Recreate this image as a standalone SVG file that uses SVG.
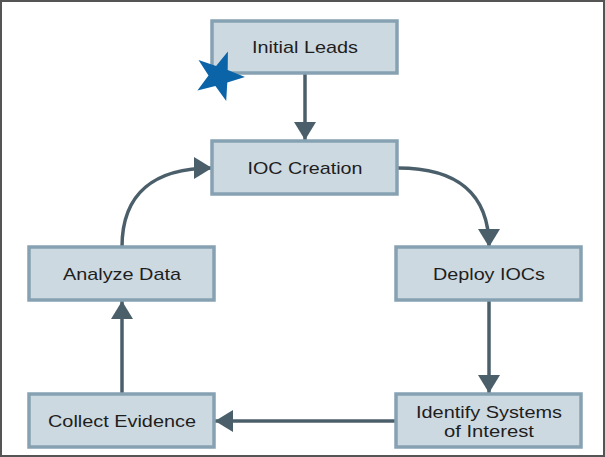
<svg xmlns="http://www.w3.org/2000/svg" width="605" height="457" viewBox="0 0 605 457">
<style>
.box{fill:#cdd9e0;stroke:#86a1b2;stroke-width:3.5}
.lbl{font-family:"Liberation Sans",Arial,sans-serif;font-size:17px;fill:#1e1e1e;text-anchor:middle}
.edge{fill:none;stroke:#4b5f6b;stroke-width:3.5}
</style>
<defs>
<marker id="ah" markerUnits="userSpaceOnUse" markerWidth="18" markerHeight="22" viewBox="0 0 18 22" refX="18" refY="11" orient="auto">
<path d="M0,0 L18,11 L0,22 z" fill="#4b5f6b"/>
</marker>
</defs>
<rect x="1" y="1" width="603" height="455" fill="#ffffff" stroke="#555555" stroke-width="2"/>
<g id="connectors">
<path class="edge" d="M305,74 L305,140" marker-end="url(#ah)"/>
<path class="edge" d="M398,168 C455,168 489,192 489,247" marker-end="url(#ah)"/>
<path class="edge" d="M489,300 L489,393" marker-end="url(#ah)"/>
<path class="edge" d="M396,421 L215,421" marker-end="url(#ah)"/>
<path class="edge" d="M122,394 L122,301" marker-end="url(#ah)"/>
<path class="edge" d="M122,247 C122,192 156,168 212,168" marker-end="url(#ah)"/>
</g>
<g id="initial-leads">
<rect class="box" x="212" y="21" width="185" height="52"/>
<text class="lbl" x="305" y="53" textLength="106" lengthAdjust="spacingAndGlyphs">Initial Leads</text>
</g>
<g id="star">
<polygon points="227.9,51.6 227.7,70.1 245,76.9 227.3,82.5 226.2,101 215.4,85.9 197.4,90.5 208.5,75.6 198.5,60 216.1,65.9" fill="#0b64a8"/>
</g>
<g id="ioc-creation">
<rect class="box" x="212" y="141" width="185" height="53"/>
<text class="lbl" x="305" y="174" textLength="115" lengthAdjust="spacingAndGlyphs">IOC Creation</text>
</g>
<g id="analyze-data">
<rect class="box" x="29" y="247" width="185" height="53"/>
<text class="lbl" x="122" y="280" textLength="118" lengthAdjust="spacingAndGlyphs">Analyze Data</text>
</g>
<g id="deploy-iocs">
<rect class="box" x="396" y="247" width="185" height="53"/>
<text class="lbl" x="489" y="280" textLength="112" lengthAdjust="spacingAndGlyphs">Deploy IOCs</text>
</g>
<g id="collect-evidence">
<rect class="box" x="29" y="394" width="185" height="53"/>
<text class="lbl" x="122" y="427" textLength="148" lengthAdjust="spacingAndGlyphs">Collect Evidence</text>
</g>
<g id="identify-systems">
<rect class="box" x="396" y="394" width="185" height="53"/>
<text class="lbl" x="489" y="418" textLength="146" lengthAdjust="spacingAndGlyphs">Identify Systems</text>
<text class="lbl" x="489" y="437" textLength="90" lengthAdjust="spacingAndGlyphs">of Interest</text>
</g>
</svg>
